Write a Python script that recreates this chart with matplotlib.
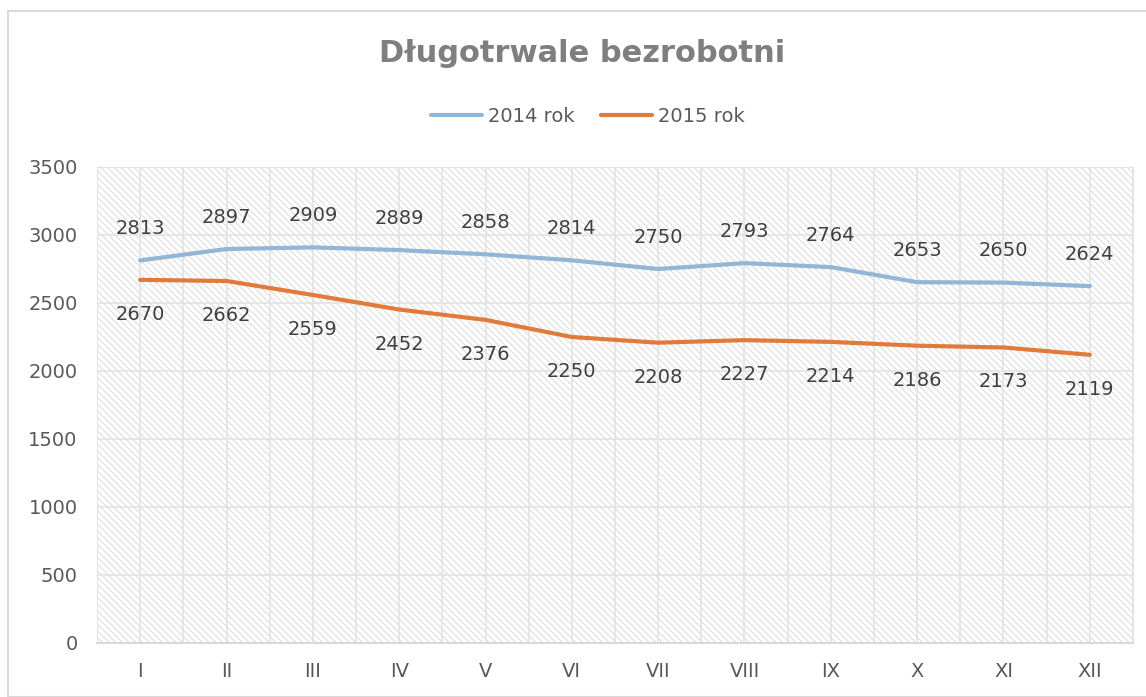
import matplotlib
matplotlib.use("Agg")
import matplotlib.pyplot as plt
from matplotlib.patches import Rectangle

months = ["I", "II", "III", "IV", "V", "VI", "VII", "VIII", "IX", "X", "XI", "XII"]
rok_2014 = [2813, 2897, 2909, 2889, 2858, 2814, 2750, 2793, 2764, 2653, 2650, 2624]
rok_2015 = [2670, 2662, 2559, 2452, 2376, 2250, 2208, 2227, 2214, 2186, 2173, 2119]
y_ticks = [0, 500, 1000, 1500, 2000, 2500, 3000, 3500]

text_color = "#595959"
grid_color = "#e3e3e3"
blue = "#93b5d6"
orange = "#e07b3c"

plt.rcParams["font.family"] = ["DejaVu Sans"]
plt.rcParams["hatch.color"] = "#dadada"
plt.rcParams["hatch.linewidth"] = 0.7

fig = plt.figure(figsize=(11.46, 6.97), dpi=100)
# outer chart border
fig.patches.append(Rectangle((8 / 1146, 0), 1.2, 1 - 11 / 697, transform=fig.transFigure,
                             fill=False, edgecolor="#d9d9d9", linewidth=1.5))

ax = fig.add_axes([97 / 1146, 1 - 643 / 697, (1133 - 97) / 1146, (643 - 167) / 697])
ax.patch.set_facecolor("white")
ax.patch.set_hatch("\\\\\\\\\\")
ax.patch.set_edgecolor("#dadada")

x = list(range(len(months)))
ax.plot(x, rok_2014, color=blue, lw=3, solid_capstyle="round", label="2014 rok", zorder=3)
ax.plot(x, rok_2015, color=orange, lw=3, solid_capstyle="round", label="2015 rok", zorder=3)

for i, v in enumerate(rok_2014):
    ax.annotate(str(v), (i, v), xytext=(0, 16), textcoords="offset points",
                ha="center", va="bottom", fontsize=14, color="#404040")
for i, v in enumerate(rok_2015):
    ax.annotate(str(v), (i, v), xytext=(0, -18), textcoords="offset points",
                ha="center", va="top", fontsize=14, color="#404040")

ax.set_xlim(-0.5, len(months) - 0.5)
ax.set_ylim(0, 3500)
ax.set_yticks(y_ticks)
ax.set_xticks(x)
ax.set_xticklabels(months)
ax.set_xticks([i + 0.5 for i in range(-1, len(months))], minor=True)
ax.tick_params(axis="both", length=0, labelsize=14, labelcolor=text_color)
ax.tick_params(axis="x", which="both", pad=14, length=0)
ax.tick_params(axis="y", pad=14)
ax.grid(True, which="both", axis="x", color=grid_color, lw=1.2)
ax.grid(True, which="major", axis="y", color=grid_color, lw=1.2)
ax.set_axisbelow(True)
for side in ["top", "right", "left"]:
    ax.spines[side].set_color(grid_color)
ax.spines["bottom"].set_color("#d9d9d9")
ax.spines["bottom"].set_linewidth(1.5)

fig.text(0.508, 1 - 53 / 697, "Długotrwale bezrobotni", ha="center", va="center",
         fontsize=22, fontweight="bold", color="#7f7f7f")
fig.legend(loc="center", bbox_to_anchor=(0.513, 1 - 116 / 697), ncol=2, frameon=False,
           fontsize=14, labelcolor=text_color, handlelength=2.6, handletextpad=0.3,
           columnspacing=1.4)

fig.savefig("out.png", dpi=100)
